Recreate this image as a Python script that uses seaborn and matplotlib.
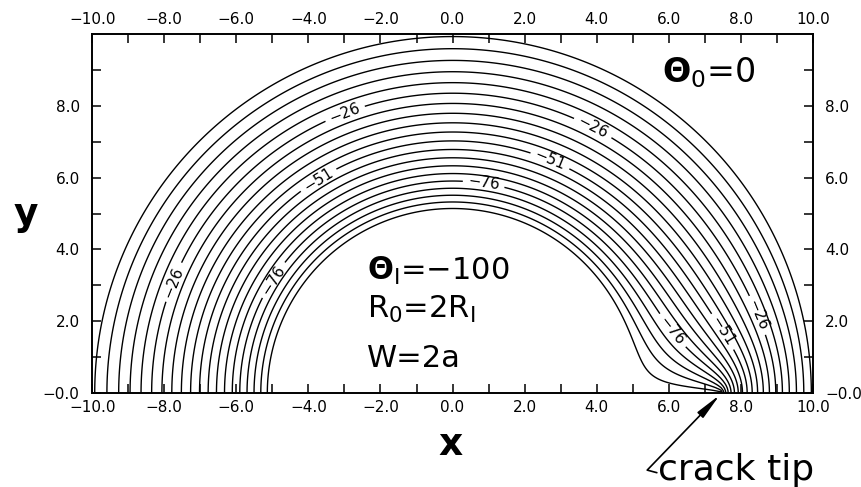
import numpy as np
import matplotlib
matplotlib.use("Agg")
import matplotlib.pyplot as plt
import seaborn as sns

# Half annulus: wall temperatures and crack geometry
inner_radius = 5.0
outer_radius = 10.0
inner_temp = -100.0          # Theta_I
outer_temp = 0.0             # Theta_0
crack_tip_radius = 7.5       # crack runs along y=0 from the bore to the tip

contour_levels = [-96, -91, -86, -81, -76, -71, -66, -61, -56, -51,
                  -46, -41, -36, -31, -26, -21, -16, -11, -6, -1]
labelled_levels = [-76, -51, -26]

x_ticks = [-10, -8, -6, -4, -2, 0, 2, 4, 6, 8, 10]
x_tick_labels = ["\u221210.0", "\u22128.0", "\u22126.0", "\u22124.0", "\u22122.0",
                 "0.0", "2.0", "4.0", "6.0", "8.0", "10.0"]
y_ticks = [0, 2, 4, 6, 8]
y_tick_labels = ["\u22120.0", "2.0", "4.0", "6.0", "8.0"]

# ---- steady conduction field on a (ln r, theta) grid --------------------
n_s, n_t = 81, 361
s = np.linspace(np.log(inner_radius), np.log(outer_radius), n_s)
th = np.linspace(0.0, np.pi, n_t)
hs, ht = s[1] - s[0], th[1] - th[0]
frac = (s - s[0]) / (s[-1] - s[0])
U = np.repeat((inner_temp + (outer_temp - inner_temp) * frac)[:, None], n_t, axis=1)

fixed = np.zeros_like(U, dtype=bool)
fixed[0, :] = True
fixed[-1, :] = True
crack = np.exp(s) <= crack_tip_radius + 1e-9
fixed[crack, 0] = True
U[crack, 0] = inner_temp

ii, jj = np.indices(U.shape)
red = (ii + jj) % 2 == 0
masks = (red & ~fixed, ~red & ~fixed)
cs = ht ** 2 / (2 * (hs ** 2 + ht ** 2))
ct = hs ** 2 / (2 * (hs ** 2 + ht ** 2))
omega = 1.93
Sp = np.empty_like(U); Sm = np.empty_like(U)
Tp = np.empty_like(U); Tm = np.empty_like(U)
for _ in range(2500):
    for m in masks:
        Sp[:-1] = U[1:]; Sp[-1] = U[-1]
        Sm[1:] = U[:-1]; Sm[0] = U[0]
        Tp[:, :-1] = U[:, 1:]; Tp[:, -1] = U[:, -2]
        Tm[:, 1:] = U[:, :-1]; Tm[:, 0] = U[:, 1]
        new = cs * (Sp + Sm) + ct * (Tp + Tm)
        U[m] += omega * (new[m] - U[m])

R = np.exp(s)[:, None]
X = R * np.cos(th)[None, :]
Y = R * np.sin(th)[None, :]

# ---- figure -------------------------------------------------------------
sns.set_theme(style="ticks", rc={
    "axes.linewidth": 1.4,
    "xtick.direction": "in", "ytick.direction": "in",
    "xtick.major.size": 6.5, "ytick.major.size": 6.5,
    "xtick.minor.size": 6.5, "ytick.minor.size": 6.5,
    "xtick.major.width": 1.1, "ytick.major.width": 1.1,
    "xtick.minor.width": 1.1, "ytick.minor.width": 1.1,
    "axes.edgecolor": "black", "xtick.color": "black", "ytick.color": "black",
    "xtick.labelcolor": "black", "ytick.labelcolor": "black",
    "text.color": "black", "axes.labelcolor": "black",
    "contour.negative_linestyle": "solid",
})
plt.rcParams["font.family"] = ["DejaVu Sans"]

fig = plt.figure(figsize=(8.62, 4.87), dpi=100)
ax = fig.add_axes([0.107, 0.193, 0.836, 0.737])

plain_levels = [v for v in contour_levels if v not in labelled_levels]
ax.contour(X, Y, U, levels=plain_levels, colors="black", linewidths=1.0,
           linestyles="solid")
lab_set = ax.contour(X, Y, U, levels=labelled_levels, colors="black",
                     linewidths=1.0, linestyles="solid")
label_spots = [(-3.0, 7.83), (3.9, 7.4), (-3.7, 5.9), (2.7, 6.46),
               (0.86, 5.8), (-7.72, 3.08), (-4.99, 3.16), (6.05, 1.7),
               (7.45, 1.68), (8.38, 2.13)]
ax.clabel(lab_set, manual=label_spots, inline=True,
          fmt=lambda v: "\u2212%d" % abs(round(v)),
          fontsize=11, colors="black")

ax.set_xlim(-10, 10)
ax.set_ylim(0, 10)
ax.set_xticks(x_ticks)
ax.set_xticklabels(x_tick_labels)
ax.set_yticks(y_ticks)
ax.set_yticklabels(y_tick_labels)
ax.set_xticks(np.arange(-9, 10, 2), minor=True)
ax.set_yticks(np.arange(1, 10, 2), minor=True)
ax.tick_params(which="both", top=True, right=True, labeltop=True,
               labelright=True, labelsize=11)
ax.tick_params(axis="x", which="major", pad=5)
ax.tick_params(axis="y", which="major", pad=9)

fig.text(26 / 862, 1 - 215 / 487, "y", fontsize=27, fontweight="bold",
         ha="center", va="center")
fig.text(451 / 862, 1 - 445 / 487, "x", fontsize=27, fontweight="bold",
         ha="center", va="center")

ax.text(5.8, 8.66, r"$\mathbf{\Theta}_{0}$=0", fontsize=24, ha="left",
        va="baseline")
ax.text(-2.37, 3.15, "$\\mathbf{\\Theta}_{\\mathrm{I}}$=\u2212100", fontsize=22,
        ha="left", va="baseline")
ax.text(-2.37, 2.09, r"R$_{0}$=2R$_{\mathrm{I}}$", fontsize=22, ha="left",
        va="baseline")
ax.text(-2.37, 0.72, "W=2a", fontsize=22, ha="left", va="baseline")

ax.annotate("", xy=(7.42, -0.05), xytext=(5.67, -2.22),
            annotation_clip=False,
            arrowprops=dict(arrowstyle="-|>,head_length=0.8,head_width=0.12",
                            connectionstyle="angle,angleA=-15,angleB=46,rad=0",
                            color="black", lw=1.2, mutation_scale=20,
                            shrinkA=0, shrinkB=0))
ax.text(5.7, -2.42, "crack tip", fontsize=26, ha="left", va="baseline",
        clip_on=False)

fig.savefig("out.png", dpi=100)
